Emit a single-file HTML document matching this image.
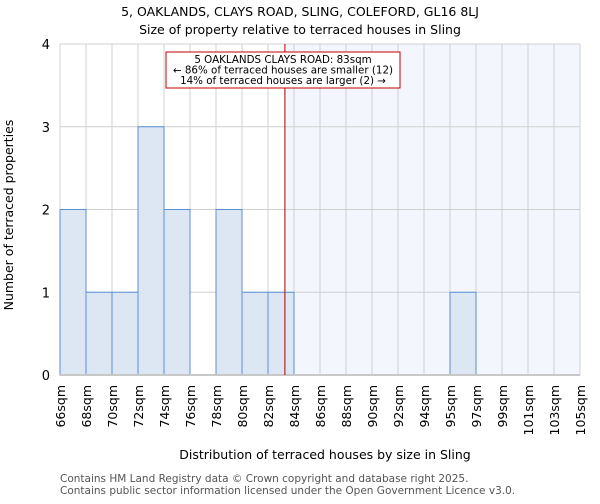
<!DOCTYPE html>
<html><head><meta charset="utf-8"><style>
body{margin:0;background:#fff;font-family:"DejaVu Sans","Liberation Sans",sans-serif}
svg text{font-family:"DejaVu Sans","Liberation Sans",sans-serif}
</style></head><body>
<svg id="chart" width="600" height="500">
<text x="300" y="16" text-anchor="middle" font-size="12.5">5, OAKLANDS, CLAYS ROAD, SLING, COLEFORD, GL16 8LJ</text>
<text x="300" y="34" text-anchor="middle" font-size="12.5">Size of property relative to terraced houses in Sling</text>
<g id="plot"></g>
<text x="325" y="459" text-anchor="middle" font-size="12.5">Distribution of terraced houses by size in Sling</text>
<text transform="translate(13,215) rotate(-90)" text-anchor="middle" font-size="12.5">Number of terraced properties</text>
<text x="60" y="482" font-size="10.5" fill="#555">Contains HM Land Registry data © Crown copyright and database right 2025.</text>
<text x="60" y="494" font-size="10.5" fill="#555">Contains public sector information licensed under the Open Government Licence v3.0.</text>
</svg>
<script>
const tickLabels = ["66sqm","68sqm","70sqm","72sqm","74sqm","76sqm","78sqm","80sqm","82sqm","84sqm","86sqm","88sqm","90sqm","92sqm","94sqm","95sqm","97sqm","99sqm","101sqm","103sqm","105sqm"];
const counts = [2,1,1,3,2,0,2,1,1,0,0,0,0,0,0,1,0,0,0,0];
const yTicks = [0,1,2,3,4];
const markerBin = 8.65;
const annotation = ["5 OAKLANDS CLAYS ROAD: 83sqm","← 86% of terraced houses are smaller (12)","14% of terraced houses are larger (2) →"];

const L=60,R=580,T=44,B=375,NS="http://www.w3.org/2000/svg";
const bw=(R-L)/counts.length;
const x=i=>L+i*bw, y=v=>B-(B-T)*v/4;
const g=document.getElementById('plot');
function mk(t,a){const e=document.createElementNS(NS,t);for(const k in a)e.setAttribute(k,a[k]);g.appendChild(e);return e;}
const mx=x(markerBin);
let e=mk('rect',{x:mx,y:T,width:R-mx,height:B-T,fill:'#f3f6fc'});


for(let i=0;i<tickLabels.length;i++){
  e=mk('line',{x1:x(i),x2:x(i),y1:T,y2:B,stroke:'#d0d0d0','stroke-width':1});
  
  
}
yTicks.forEach(v=>{
  e=mk('line',{x1:L,x2:R,y1:y(v),y2:y(v),stroke:'#d0d0d0','stroke-width':1});
  
  
  e=mk('text',{x:L-10,y:y(v)+5,'text-anchor':'end','font-size':13});
  e.textContent=v;
  
  
});
counts.forEach((c,i)=>{
  if(!c)return;
  e=mk('rect',{x:x(i),y:y(c),width:bw,height:B-y(c),fill:'#dde7f4',stroke:'#5b8fd6','stroke-width':1});
  
  
});
e=mk('line',{x1:L,x2:R,y1:B,y2:B,stroke:'#c8c8c8','stroke-width':2});


tickLabels.forEach((t,i)=>{
  e=mk('text',{transform:`translate(${x(i)+5},${B+10}) rotate(-90)`,'text-anchor':'end','font-size':12.5});
  e.textContent=t;
  
  
});
e=mk('line',{x1:mx,x2:mx,y1:T,y2:B,stroke:'#aa0000','stroke-width':1});


e=mk('rect',{x:166,y:52,width:234,height:36,fill:'#fff',stroke:'#c00000','stroke-width':1});


annotation.forEach((t,i)=>{
  e=mk('text',{x:283,y:63+i*10.5,'text-anchor':'middle','font-size':10.3});
  e.textContent=t;
  
  
});
</script>
</body></html>
